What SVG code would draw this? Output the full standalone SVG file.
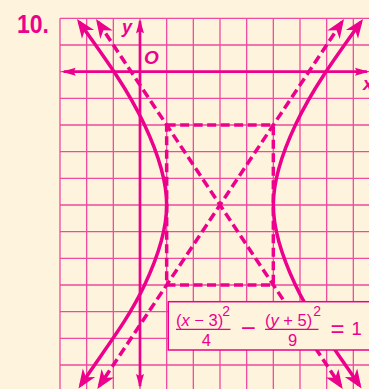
<svg xmlns="http://www.w3.org/2000/svg" width="369" height="389" viewBox="0 0 369 389">
<defs>
<style>
.grid{stroke:#EE4A9F;stroke-width:1.3;fill:none}
.axis{stroke:#EC008C;stroke-width:2.7;fill:none}
.curve{stroke:#EC008C;stroke-width:3.5;fill:none}
.dash{stroke:#EC008C;stroke-width:3.5;fill:none;stroke-dasharray:9 4.5}
.t{fill:#EC008C;font-family:"Liberation Sans",Arial,sans-serif}
</style>
<marker id="ah" markerUnits="userSpaceOnUse" markerWidth="28" markerHeight="22" viewBox="-20 -11 28 22" refX="0" refY="0" orient="auto-start-reverse">
<path d="M4,0 L-15,-7.5 L-9.5,0 L-15,7.5 Z" fill="#EC008C"/>
</marker>
<marker id="axh" markerUnits="userSpaceOnUse" markerWidth="20" markerHeight="12" viewBox="-14 -6 20 12" refX="0" refY="0" orient="auto-start-reverse">
<path d="M2,0 L-12,-4 L-10,0 L-12,4 Z" fill="#EC008C"/>
</marker>
</defs>
<rect width="369" height="389" fill="#FEF4DD"/>
<text class="t" x="17" y="32.7" font-size="26" font-weight="bold" textLength="32" lengthAdjust="spacingAndGlyphs">10.</text>
<g id="grid">
<path class="grid" d="M60,18.33V389M86.67,18.33V389M113.33,18.33V389M140,18.33V389M166.67,18.33V389M193.33,18.33V389M220,18.33V389M246.67,18.33V389M273.33,18.33V389M300,18.33V389M326.67,18.33V389M353.33,18.33V389M60,18.33H369M60,45H369M60,71.67H369M60,98.33H369M60,125H369M60,151.67H369M60,178.33H369M60,205H369M60,231.67H369M60,258.33H369M60,285H369M60,311.67H369M60,338.33H369M60,365H369"/>
</g>
<g id="connectors">
<rect class="dash" x="166.67" y="125" width="106.66" height="160"/>
<path id="asymptote1" class="dash" d="M98.2,22.3L340.5,385.7" marker-start="url(#ah)" marker-end="url(#ah)"/>
<path id="asymptote2" class="dash" d="M341.8,22.3L99.5,385.7" marker-start="url(#ah)" marker-end="url(#ah)"/>
<path id="x-axis" class="axis" d="M63.7,71.67H367" marker-start="url(#axh)" marker-end="url(#axh)"/>
<path id="y-axis" class="axis" d="M140,21.3V386" marker-start="url(#axh)" marker-end="url(#axh)"/>
<path id="branch-left" class="curve" d="M79.3,22.3C105.6,58.8 128.1,90 144.58,125C157.3,152 166.67,178 166.67,205C166.67,232 157.3,258 144.58,285C128.1,320 105.7,347.8 80.7,385.2" marker-start="url(#ah)" marker-end="url(#ah)"/>
<path id="branch-right" class="curve" d="M360.7,22.3C334.4,58.8 311.9,90 295.42,125C282.7,152 273.33,178 273.33,205C273.33,232 282.7,258 295.42,285C311.9,320 334.3,347.8 359.3,385.2" marker-start="url(#ah)" marker-end="url(#ah)"/>
</g>
<g id="labels">
<text class="t" x="122" y="33" font-size="18" font-weight="bold" font-style="italic">y</text>
<text class="t" x="144" y="64" font-size="19" font-weight="bold" font-style="italic">O</text>
<text class="t" x="363" y="90" font-size="18" font-weight="bold" font-style="italic">x</text>
</g>
<g id="equation">
<rect x="168.3" y="301.7" width="210" height="48.3" fill="#FEF4DD" stroke="#EC008C" stroke-width="1.5"/>
<text class="t" x="176" y="325.5" font-size="16.5">(<tspan font-style="italic">x</tspan> − 3)</text>
<text class="t" x="222.3" y="316" font-size="14">2</text>
<line x1="176" y1="329.3" x2="230.5" y2="329.3" stroke="#EC008C" stroke-width="1.3"/>
<text class="t" x="206.3" y="346" font-size="16.5" text-anchor="middle">4</text>
<text class="t" x="248.3" y="337.3" font-size="26" text-anchor="middle">−</text>
<text class="t" x="265" y="325.5" font-size="16.5">(<tspan font-style="italic">y</tspan> + 5)</text>
<text class="t" x="313.3" y="316" font-size="14">2</text>
<line x1="265" y1="329.3" x2="318.5" y2="329.3" stroke="#EC008C" stroke-width="1.3"/>
<text class="t" x="292.5" y="346" font-size="16.5" text-anchor="middle">9</text>
<text class="t" x="337.5" y="337" font-size="24" text-anchor="middle">=</text>
<text class="t" x="351.5" y="335" font-size="18.5">1</text>
</g>
</svg>
